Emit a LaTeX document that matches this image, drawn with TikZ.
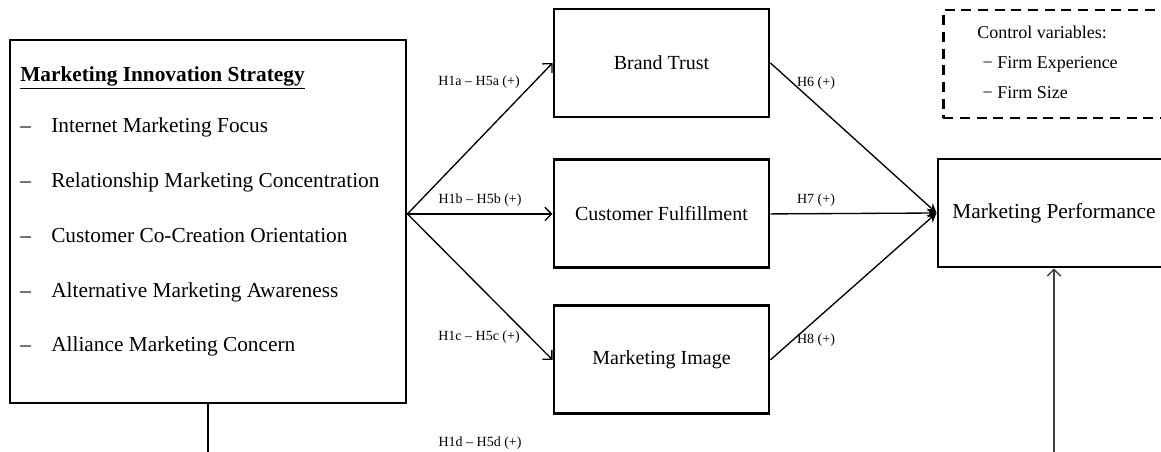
\documentclass[tikz,border=0pt]{standalone}
\usepackage{fontspec}
\setmainfont{Liberation Serif}
\usetikzlibrary{positioning,arrows.meta}

\begin{document}
\begin{tikzpicture}[x=0.75pt,y=-0.75pt]
    \tikzstyle{construct} = [rectangle,draw=black,line width=2.2pt,minimum width=161.25pt,minimum height=81pt,inner sep=0pt,font=\fontsize{15}{18}\selectfont]
    \tikzstyle{control} = [construct,dash pattern=on 7.5pt off 5pt,minimum width=170pt]
    \tikzstyle{item} = [anchor=west,inner sep=0pt,text height=11pt,text depth=3.5pt,font=\fontsize{16}{19}\selectfont]
    \tikzstyle{hyp} = [inner sep=0pt,font=\fontsize{10.5}{12}\selectfont]
    \tikzstyle{link} = [line width=1pt,->]
    \tikzstyle{feed} = [line width=1pt,-{Stealth[length=7pt,width=7pt]}]
    \tikzset{>={Straight Barb[length=5pt,width=10pt]}}

    \clip (0,0) rectangle (1161,452);

    % independent construct
    \node [construct, minimum width=297pt, minimum height=272.25pt] (mis) at (208,221.5) {};
    \node [item] (mistitle) at (20,77) {\underline{\textbf{Marketing Innovation Strategy}}};
    \foreach \txt [count=\i] in {Internet Marketing Focus, Relationship Marketing Concentration, Customer Co-Creation Orientation, Alternative Marketing Awareness, Alliance Marketing Concern} {
        \node [item] (dash\i) at (20,{128+54.75*(\i-1)}) {\textendash};
        \node [item] (item\i) at (51,{128+54.75*(\i-1)}) {\txt};
    }

    % mediators
    \node [construct] (bt) at (661.5,63) {Brand Trust};
    \node [construct, below=30pt of bt] (cf) {Customer Fulfillment};
    \node [construct, below=26.25pt of cf] (mi) {Marketing Image};

    % outcome and controls
    \node [construct, minimum width=174pt, font=\fontsize{16}{19}\selectfont] (mp) at (1054,213) {Marketing Performance};
    \node [control] (ctrl) at (1056.5,64) {};
    \node [anchor=west, align=left, inner sep=0pt, font=\fontsize{13.5}{22.5}\selectfont] (ctrltxt) at (977,62) {Control variables:\\\hspace{4pt}− Firm Experience\\\hspace{4pt}− Firm Size};

    % paths
    \coordinate (misout) at (mis.east |- cf.west);
    \draw [link] (misout) -- (bt.west);
    \draw [link] (misout) -- (cf.west);
    \draw [link] (misout) -- (mi.west);
    \draw [feed] (bt.east) -- (mp.west);
    \draw [feed] (cf.east) -- (mp.west);
    \draw [feed] (mi.east) -- (mp.west);

    \coordinate (misbase) at (208,460);
    \coordinate (mpbase) at (1054,460);
    \draw [line width=1pt] (mis.south) -- (misbase);
    \draw [link, black!75] (mpbase) -- (mp.south);

    % hypotheses
    \node [hyp] (h1a) at (479,82) {H1a – H5a (+)};
    \node [hyp] (h1b) at (480,200) {H1b – H5b (+)};
    \node [hyp] (h1c) at (479,337) {H1c – H5c (+)};
    \node [hyp] (h1d) at (480,443) {H1d – H5d (+)};
    \node [hyp] (h6) at (816,83) {H6 (+)};
    \node [hyp] (h7) at (816,200) {H7 (+)};
    \node [hyp] (h8) at (816,340) {H8 (+)};
\end{tikzpicture}
\end{document}
